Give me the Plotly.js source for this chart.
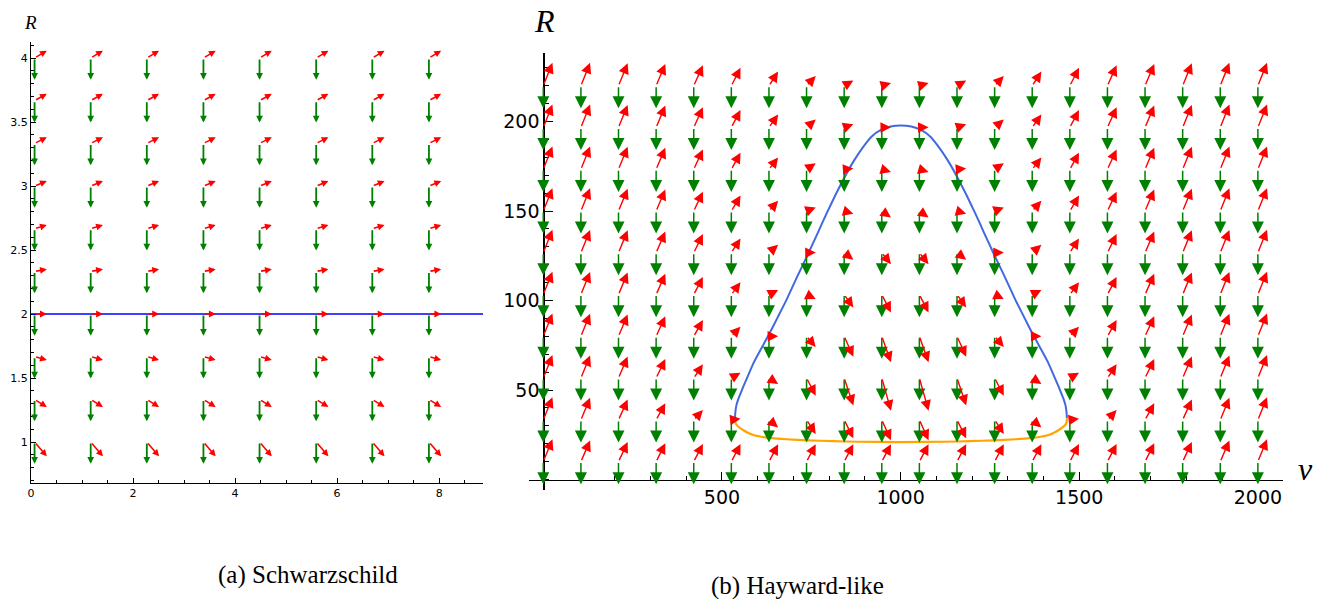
<!DOCTYPE html>
<html><head><meta charset="utf-8">
<script src="https://cdn.plot.ly/plotly-3.0.1.min.js"></script>
<style>html,body{margin:0;padding:0;background:#fff}#chart{width:1318px;height:599px}</style>
</head><body><div id="chart"></div>
<script>
// ---------- (a) Schwarzschild : grid of null directions ----------
const schwV = [0.07, 1.17, 2.27, 3.38, 4.48, 5.59, 6.69, 7.8];
const schwR = [1, 1.333, 1.667, 2, 2.333, 2.667, 3, 3.333, 3.667, 4];
const schwOutDV = 0.24;                       // outgoing (red) v-component
const schwOutDR = [-0.112, -0.06, -0.026, 0, 0.016, 0.029, 0.039, 0.047, 0.053, 0.057]; // per R row
const schwInDR = -0.17;                       // ingoing (green) R-component
const schwHorizonR = 2;

// ---------- (b) Hayward-like ----------
const hayV = [0, 105.3, 210.5, 315.8, 421.1, 526.3, 631.6, 736.8, 842.1, 947.4,
              1052.6, 1157.9, 1263.2, 1368.4, 1473.7, 1578.9, 1684.2, 1789.5, 1894.7, 2000];
const hayR = [10, 33.3, 56.7, 80, 103.3, 126.7, 150, 173.3, 196.7, 220];
const hayOutDV = 25.7;
const hayOutDR = [
  [12.5, 11.8, 10.9, 10.3, 9.9, 9.8, 9.7, 9.7, 9.7, 9.7, 9.7, 9.7, 9.7, 9.7, 9.8, 9.9, 10.3, 10.9, 11.8, 12.5],
  [12.7, 12.4, 11.4, 9.3, 5.5, 0.6, -4.2, -7.9, -10.3, -11.4, -11.4, -10.3, -7.9, -4.2, 0.6, 5.5, 9.3, 11.4, 12.4, 12.7],
  [12.8, 12.6, 12.0, 10.6, 7.7, 2.9, -3.4, -9.9, -15.3, -18.3, -18.3, -15.3, -9.9, -3.4, 2.9, 7.7, 10.6, 12.0, 12.6, 12.8],
  [12.8, 12.6, 12.2, 11.2, 9.1, 5.4, 0.1, -6.0, -11.4, -14.5, -14.5, -11.4, -6.0, 0.1, 5.4, 9.1, 11.2, 12.2, 12.6, 12.8],
  [12.8, 12.7, 12.4, 11.6, 9.9, 6.9, 2.6, -2.5, -7.2, -10.0, -10.0, -7.2, -2.5, 2.6, 6.9, 9.9, 11.6, 12.4, 12.7, 12.8],
  [12.8, 12.7, 12.5, 11.8, 10.4, 8.0, 4.4, 0.1, -3.9, -6.4, -6.4, -3.9, 0.1, 4.4, 8.0, 10.4, 11.8, 12.5, 12.7, 12.8],
  [12.8, 12.7, 12.5, 12.0, 10.8, 8.7, 5.7, 2.0, -1.5, -3.6, -3.6, -1.5, 2.0, 5.7, 8.7, 10.8, 12.0, 12.5, 12.7, 12.8],
  [12.8, 12.8, 12.6, 12.1, 11.1, 9.3, 6.6, 3.4, 0.4, -1.5, -1.5, 0.4, 3.4, 6.6, 9.3, 11.1, 12.1, 12.6, 12.8, 12.8],
  [12.8, 12.8, 12.6, 12.2, 11.3, 9.7, 7.3, 4.5, 1.8, 0.1, 0.1, 1.8, 4.5, 7.3, 9.7, 11.3, 12.2, 12.6, 12.8, 12.8],
  [12.8, 12.8, 12.6, 12.2, 11.4, 10.0, 7.9, 5.4, 2.9, 1.5, 1.5, 2.9, 5.4, 7.9, 10.0, 11.4, 12.2, 12.6, 12.8, 12.8]
];
const hayInDR = -12.6;
// outer (trapping) horizon, blue
const outerV = [536.5, 537.5, 540, 545, 551, 560, 574, 588, 611, 634, 657, 681, 711, 742, 768, 793, 819, 844, 870, 896, 920, 945, 972, 1001,
                1030, 1057, 1082, 1106, 1132, 1158, 1183, 1209, 1234, 1260, 1291, 1321, 1345, 1368, 1391, 1414, 1428, 1442, 1451, 1457, 1462, 1464.5, 1465.5];
const outerR = [34.2, 37.5, 41, 44.5, 47.5, 52, 58.5, 64.9, 73.5, 82, 91, 100.5, 113.5, 126.4, 137.7, 148.7, 159.5, 169.2, 178.3, 186, 191.8, 195.3, 197.2, 197.8,
                197.2, 195.3, 191.8, 186, 178.3, 169.2, 159.5, 148.7, 137.7, 126.4, 113.5, 100.5, 91, 82, 73.5, 64.9, 58.5, 52, 47.5, 44.5, 41, 37.5, 34.2];
// inner horizon, orange
const innerV = [536.5, 537.5, 541, 548, 560, 574, 588, 610, 640, 681, 740, 810, 880, 1001,
                1122, 1192, 1262, 1321, 1362, 1392, 1414, 1428, 1442, 1454, 1461, 1464.5, 1465.5];
const innerR = [34.2, 32, 30.5, 29.2, 27.5, 26, 24.9, 23.9, 23.1, 22.5, 21.9, 21.4, 21.1, 20.9,
                21.1, 21.4, 21.9, 22.5, 23.1, 23.9, 24.9, 26, 27.5, 29.2, 30.5, 32, 34.2];

const GREEN = '#008000', RED = '#ff0000';
const ann = [];
function arrow(xa, ya, x0, y0, x1, y1, color, w, size) {
  ann.push({xref: xa, yref: ya, axref: xa, ayref: ya, x: x1, y: y1, ax: x0, ay: y0,
    text: '', showarrow: true, arrowhead: 2, arrowsize: size, arrowwidth: w,
    arrowcolor: color, standoff: 0, startstandoff: 0});
}
// left panel
schwR.forEach((r, i) => schwV.forEach(v => arrow('x', 'y', v, r, v, r + schwInDR, GREEN, 1.8, 0.75)));
schwR.forEach((r, i) => schwV.forEach(v => arrow('x', 'y', v, r, v + schwOutDV, r + schwOutDR[i], RED, 1.6, 0.85)));
// right panel
hayR.forEach((r, i) => hayV.forEach(v => arrow('x2', 'y2', v, r, v, r + hayInDR, GREEN, 1.5, 1.6)));
hayR.forEach((r, i) => hayV.forEach((v, k) => arrow('x2', 'y2', v, r, v + hayOutDV, r + hayOutDR[i][k], RED, 1.4, 1.5)));

const serif = 'Liberation Serif, DejaVu Serif, serif';
ann.push({xref: 'paper', yref: 'paper', x: 30.3/1318, y: 1 - 23/599, text: '<i>R</i>', showarrow: false,
  font: {family: serif, size: 19, color: '#000'}, xanchor: 'center', yanchor: 'middle'});
ann.push({xref: 'paper', yref: 'paper', x: 544.7/1318, y: 1 - 20.7/599, text: '<i>R</i>', showarrow: false,
  font: {family: serif, size: 32, color: '#000'}, xanchor: 'center', yanchor: 'middle'});
ann.push({xref: 'paper', yref: 'paper', x: 1305.3/1318, y: 1 - 469/599, text: '<i>v</i>', showarrow: false,
  font: {family: serif, size: 32, color: '#000'}, xanchor: 'center', yanchor: 'middle'});
ann.push({xref: 'paper', yref: 'paper', x: 307.5/1318, y: 1 - 575/599, text: '(a) Schwarzschild', showarrow: false,
  font: {family: serif, size: 25, color: '#000'}, xanchor: 'center', yanchor: 'middle'});
ann.push({xref: 'paper', yref: 'paper', x: 797/1318, y: 1 - 586/599, text: '(b) Hayward-like', showarrow: false,
  font: {family: serif, size: 25, color: '#000'}, xanchor: 'center', yanchor: 'middle'});

const traces = [
  {x: [], y: [], xaxis: 'x', yaxis: 'y', type: 'scatter', mode: 'lines', hoverinfo: 'skip'},
  {x: outerV, y: outerR, xaxis: 'x2', yaxis: 'y2', type: 'scatter', mode: 'lines',
   line: {color: '#4169e1', width: 2, shape: 'spline', smoothing: 0.5}, hoverinfo: 'skip'},
  {x: innerV, y: innerR, xaxis: 'x2', yaxis: 'y2', type: 'scatter', mode: 'lines',
   line: {color: '#ffa500', width: 2.2, shape: 'spline', smoothing: 0.5}, hoverinfo: 'skip'}
];

const tickFontL = {family: 'DejaVu Sans, sans-serif', size: 11, color: '#000'};
const tickFontR = {family: 'DejaVu Sans, sans-serif', size: 19, color: '#000'};
const layout = {
  width: 1318, height: 599, margin: {l: 0, r: 0, t: 0, b: 0},
  paper_bgcolor: '#fff', plot_bgcolor: 'rgba(0,0,0,0)', showlegend: false,
  xaxis: {domain: [31/1318, 483/1318], range: [0, 8.86], anchor: 'y',
    showgrid: false, zeroline: false, showline: true, linecolor: '#000', linewidth: 1,
    ticks: 'inside', ticklen: 5, tickcolor: '#000', tickmode: 'linear', tick0: 0, dtick: 2,
    minor: {tickmode: 'linear', tick0: 0, dtick: 0.5, ticks: 'inside', ticklen: 3, tickcolor: '#000'},
    tickfont: tickFontL},
  yaxis: {domain: [116/599, 557/599], range: [0.68, 4.125], anchor: 'x',
    showgrid: false, zeroline: false, showline: true, linecolor: '#000', linewidth: 1,
    ticks: 'inside', ticklen: 5, tickcolor: '#000', tickmode: 'array',
    tickvals: [1, 1.5, 2, 2.5, 3, 3.5, 4], ticktext: ['1', '1.5', '2', '2.5', '3', '3.5', '4'],
    minor: {tickmode: 'linear', tick0: 0, dtick: 0.1, ticks: 'inside', ticklen: 3, tickcolor: '#000'},
    tickfont: tickFontL},
  xaxis2: {domain: [529/1318, 1283/1318], range: [-40, 2070.3], anchor: 'free', position: 119.5/599,
    showgrid: false, zeroline: false, showline: true, linecolor: '#000', linewidth: 1.3,
    ticks: 'inside', ticklen: 8, tickcolor: '#000', tickmode: 'array', tickvals: [500, 1000, 1500, 2000],
    minor: {tickmode: 'linear', tick0: 0, dtick: 100, ticks: 'inside', ticklen: 4, tickcolor: '#000'},
    tickfont: tickFontR},
  yaxis2: {domain: [109/599, 546/599], range: [-5.87, 238.3], anchor: 'free', position: 543.3/1318,
    showgrid: false, zeroline: false, showline: true, linecolor: '#000', linewidth: 1.3,
    ticks: 'inside', ticklen: 8, tickcolor: '#000', tickmode: 'array', tickvals: [50, 100, 150, 200],
    minor: {tickmode: 'linear', tick0: 0, dtick: 10, ticks: 'inside', ticklen: 4, tickcolor: '#000'},
    tickfont: tickFontR},
  shapes: [{type: 'line', xref: 'x domain', yref: 'y', x0: 0, x1: 1, y0: schwHorizonR, y1: schwHorizonR,
    line: {color: '#0000ff', width: 1.5}, layer: 'above'}],
  annotations: ann
};
Plotly.newPlot('chart', traces, layout, {staticPlot: true, displayModeBar: false});
</script></body></html>
